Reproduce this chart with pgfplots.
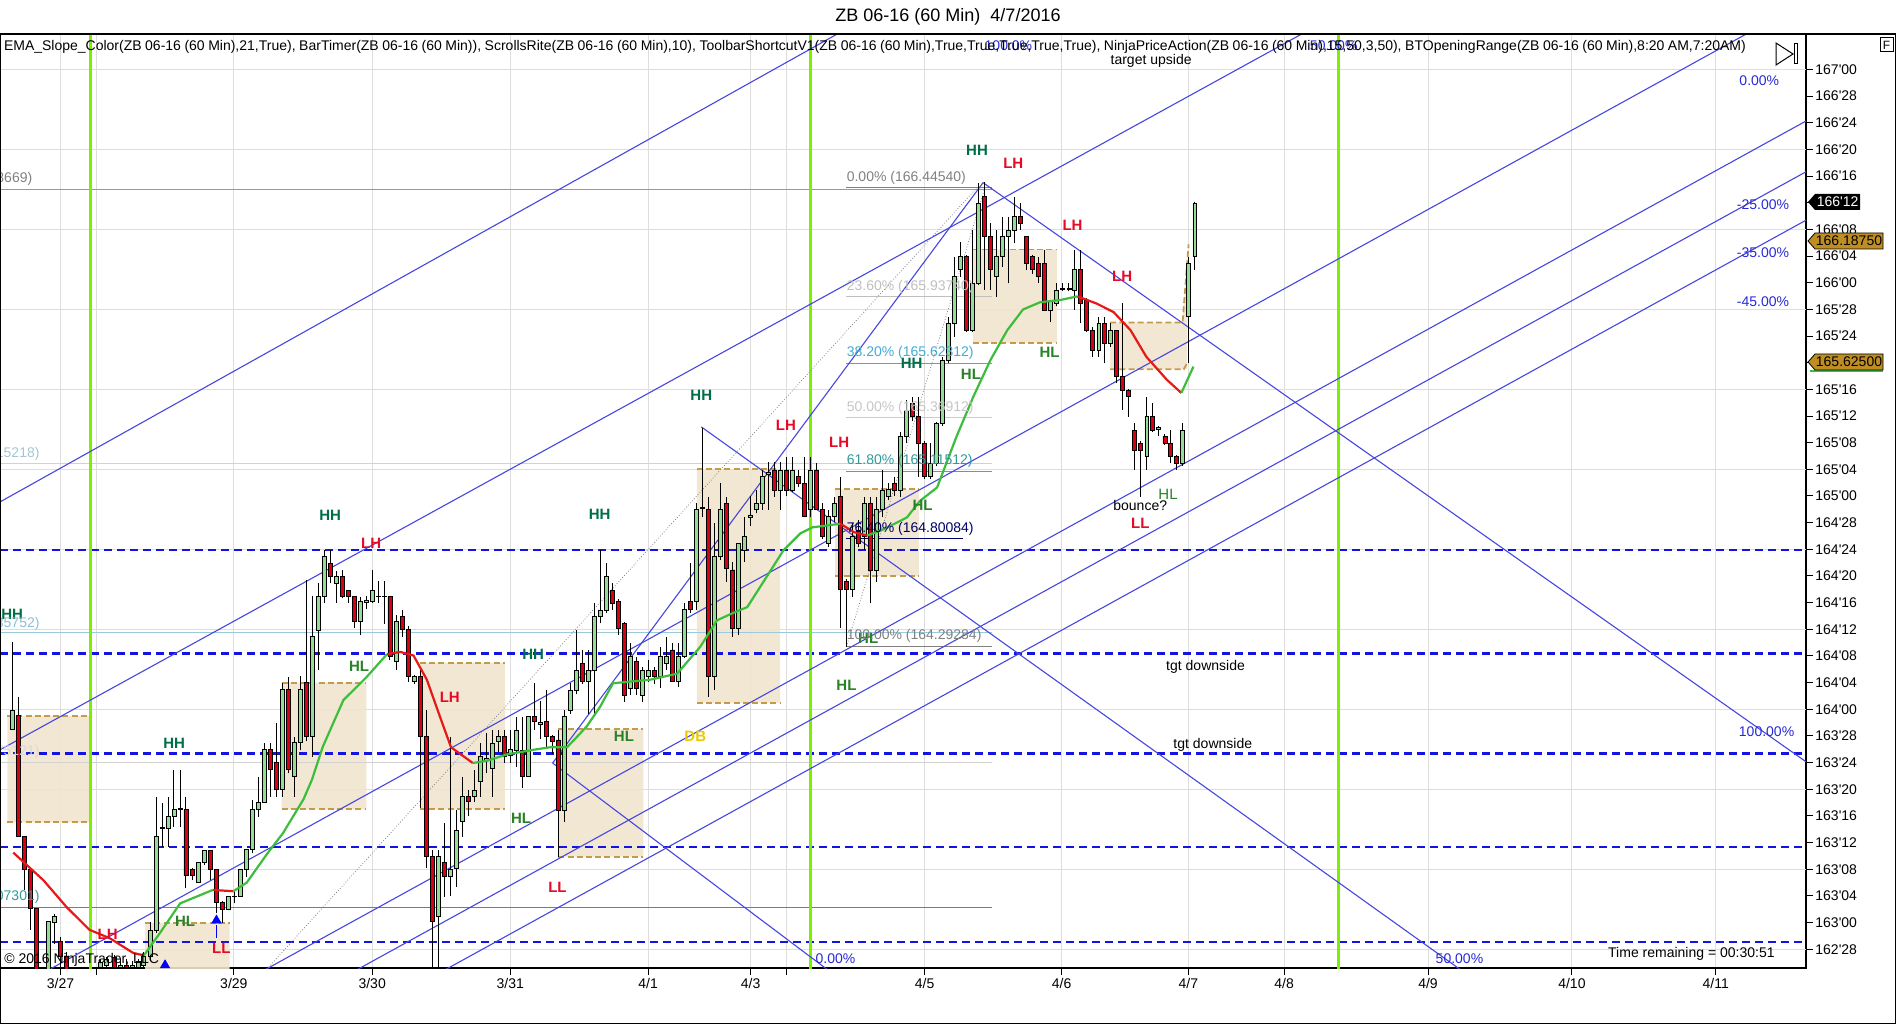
\documentclass[border=0pt]{standalone}
\usepackage{pgfplots}
\pgfplotsset{compat=1.18}
\usepackage{pgfplotstable}
\usepackage{fontspec}
\setmainfont{Liberation Sans}
\newcommand\q{\textquotesingle}
\newcommand\fs[1]{\fontsize{#1}{#1}\selectfont}

\definecolor{upc}{RGB}{150,220,150}
\definecolor{dnc}{RGB}{215,0,20}
\definecolor{emar}{RGB}{230,25,25}
\definecolor{emag}{RGB}{60,190,60}
\definecolor{bdash}{RGB}{20,20,225}
\definecolor{bline}{RGB}{70,70,225}
\definecolor{vgreen}{RGB}{124,240,0}
\definecolor{tanf}{RGB}{240,228,206}
\definecolor{tand}{RGB}{196,155,75}
\definecolor{gridc}{RGB}{222,222,222}
\definecolor{hhc}{RGB}{0,110,70}
\definecolor{hlc}{RGB}{40,130,40}
\definecolor{lhc}{RGB}{230,10,40}
\definecolor{dbc}{RGB}{235,200,0}
\definecolor{pctc}{RGB}{40,40,215}
\definecolor{gold}{RGB}{190,142,36}

% hourly bars, x in chart columns, prices in points
\pgfplotstableread{
x O H L C
10.2 163.906 164.317 163.906 163.997
15.2 163.969 164.059 163.403 163.403
20.1 163.403 163.403 163.153 163.247
25.4 163.247 163.247 162.965 163.067
30.3 163.067 163.067 162.700 162.750
40.0 162.750 163.004 162.700 163.004
44.9 163.000 163.040 162.900 163.030
49.9 162.911 162.934 162.780 162.840
55.1 162.840 162.860 162.750 162.780
83.0 162.790 162.830 162.750 162.815
88.0 162.800 162.840 162.760 162.825
94.3 162.835 162.850 162.770 162.790
99.5 162.790 162.830 162.760 162.800
104.5 162.800 162.830 162.770 162.790
109.5 162.790 162.820 162.760 162.800
114.4 162.790 162.830 162.750 162.817
118.6 162.800 162.860 162.780 162.840
124.1 162.840 163.004 162.820 162.965
129.6 162.965 163.590 162.950 163.403
134.5 163.440 163.559 163.356 163.445
139.2 163.442 163.590 163.356 163.497
143.9 163.497 163.716 163.450 163.531
148.9 163.531 163.716 163.450 163.534
153.8 163.531 163.590 163.161 163.219
159.1 163.250 163.255 163.200 163.219
164.0 163.187 163.281 163.187 163.281
169.0 163.281 163.340 163.270 163.340
174.0 163.340 163.340 163.200 163.250
179.2 163.250 163.250 163.044 163.094
183.9 163.094 163.100 162.997 163.062
189.1 163.062 163.122 163.060 163.122
194.1 163.122 163.153 163.090 163.125
199.1 163.125 163.250 163.120 163.250
204.0 163.250 163.344 163.215 163.344
208.7 163.344 163.575 163.325 163.531
213.7 163.531 163.684 163.497 163.562
218.6 163.562 163.844 163.562 163.812
223.6 163.812 163.844 163.590 163.719
228.6 163.750 163.937 163.590 163.625
233.5 163.625 164.125 163.590 164.094
238.5 164.094 164.153 163.700 163.719
243.4 163.687 163.872 163.590 163.844
248.4 163.844 164.156 163.809 164.094
253.4 164.125 164.606 163.850 163.875
258.3 163.875 164.531 163.778 164.344
263.3 164.372 164.590 164.184 164.528
268.2 164.528 164.747 164.500 164.715
273.5 164.684 164.747 164.590 164.622
278.4 164.590 164.650 164.500 164.622
283.4 164.622 164.653 164.520 164.528
288.3 164.559 164.560 164.500 164.528
293.3 164.528 164.530 164.380 164.411
298.3 164.411 164.528 164.348 164.504
303.2 164.500 164.530 164.470 164.510
308.2 164.504 164.653 164.500 164.559
313.2 164.528 164.600 164.500 164.530
318.1 164.530 164.600 164.400 164.528
322.5 164.528 164.530 164.230 164.247
328.1 164.223 164.442 164.184 164.411
333.0 164.437 164.465 164.340 164.375
338.0 164.375 164.390 164.130 164.153
343.0 164.130 164.160 164.120 164.156
347.9 164.156 164.200 163.536 163.872
352.9 163.872 163.997 163.254 163.309
357.8 163.309 163.340 162.700 163.004
362.5 163.028 163.340 162.700 163.309
367.5 163.281 163.465 163.121 163.215
372.5 163.215 163.870 163.125 163.250
377.4 163.254 163.528 163.168 163.434
382.4 163.473 163.684 163.403 163.590
387.3 163.590 163.620 163.500 163.567
392.3 163.590 163.715 163.567 163.622
397.3 163.661 163.840 163.590 163.778
402.2 163.760 163.887 163.700 163.770
407.2 163.723 163.903 163.590 163.840
412.1 163.848 163.903 163.800 163.872
417.1 163.872 163.903 163.747 163.778
422.1 163.785 163.903 163.750 163.812
427.0 163.809 163.965 163.731 163.903
432.0 163.809 163.965 163.629 163.684
437.0 163.684 163.970 163.684 163.965
441.9 163.965 164.121 163.903 163.942
446.9 163.930 164.040 163.860 163.940
451.9 163.942 164.090 163.825 163.872
456.8 163.872 163.880 163.790 163.848
461.8 163.856 163.903 163.309 163.528
466.7 163.528 163.997 163.473 163.965
471.7 163.997 164.121 163.980 164.090
476.7 164.090 164.372 164.070 164.184
481.6 164.215 164.278 164.120 164.129
486.6 164.129 164.278 163.980 164.184
491.5 164.184 164.496 163.980 164.434
496.5 164.434 164.747 164.403 164.465
501.5 164.465 164.684 164.450 164.622
506.4 164.559 164.590 164.465 164.497
511.4 164.505 164.515 164.350 164.380
516.4 164.403 164.410 164.036 164.067
521.6 164.099 164.309 164.067 164.247
526.6 164.223 164.247 164.067 164.099
531.6 164.067 164.200 164.036 164.184
536.5 164.153 164.232 164.130 164.184
541.5 164.184 164.200 164.120 164.153
546.5 164.153 164.294 164.099 164.247
551.4 164.215 164.341 164.184 164.247
556.4 164.278 164.309 164.130 164.130
561.4 164.130 164.309 164.106 164.247
566.3 164.247 164.497 164.240 164.466
571.3 164.505 164.685 164.450 164.466
576.3 164.505 164.966 164.466 164.935
581.2 164.940 165.317 164.900 164.945
586.2 164.935 164.997 164.059 164.153
591.1 164.153 164.872 164.091 164.716
596.1 164.716 165.060 164.700 164.935
601.1 164.966 164.997 164.599 164.661
606.0 164.653 164.690 164.341 164.380
611.0 164.380 164.780 164.348 164.778
616.0 164.747 164.903 164.692 164.810
620.9 164.900 165.000 164.860 164.910
625.9 164.935 165.030 164.920 164.966
630.8 164.966 165.122 164.935 165.091
635.8 165.100 165.161 164.935 165.110
640.8 165.122 165.161 164.997 165.028
645.7 165.028 165.161 164.935 165.122
650.7 165.122 165.185 165.000 165.028
655.7 165.028 165.185 165.020 165.122
660.6 165.091 165.122 165.040 165.060
665.6 165.060 165.185 164.900 164.903
670.5 164.935 165.185 164.900 165.122
675.5 165.122 165.154 164.935 164.935
680.5 164.935 164.966 164.800 164.810
685.4 164.778 164.935 164.760 164.903
690.4 164.903 164.997 164.880 164.966
695.4 164.997 165.091 164.380 164.560
700.3 164.599 164.610 164.294 164.560
705.3 164.560 164.872 164.528 164.810
710.2 164.841 164.888 164.760 164.778
715.2 164.810 164.997 164.747 164.966
720.2 164.966 164.997 164.497 164.653
725.1 164.653 164.997 164.599 164.935
730.1 164.935 165.122 164.900 165.028
735.1 165.000 165.060 164.980 165.030
740.0 165.060 165.090 165.000 165.028
745.0 165.028 165.300 164.997 165.278
749.9 165.278 165.450 165.250 165.403
754.9 165.434 165.466 165.350 165.372
759.9 165.372 165.466 165.091 165.247
764.8 165.247 165.260 165.080 165.091
769.8 165.091 165.247 165.080 165.153
774.8 165.153 165.345 165.140 165.341
779.7 165.341 165.650 165.330 165.638
784.7 165.638 165.841 165.622 165.809
789.7 165.809 166.122 165.747 166.028
794.6 166.060 166.192 166.028 166.122
799.6 166.122 166.130 165.770 165.778
804.5 165.778 166.247 165.770 165.997
809.5 165.997 166.466 165.990 166.372
814.5 166.403 166.474 165.966 166.216
819.4 166.216 166.278 165.966 166.060
824.4 166.028 166.247 165.934 166.122
829.4 166.122 166.309 166.075 166.216
834.3 166.216 166.309 165.997 166.247
839.3 166.247 166.403 166.184 166.309
844.2 166.309 166.372 166.247 166.278
849.2 166.216 166.220 166.060 166.091
854.2 166.122 166.130 166.040 166.060
859.1 166.091 166.120 166.000 166.028
864.1 166.091 166.153 165.870 165.872
869.1 165.872 165.920 165.818 165.911
874.0 165.903 165.997 165.890 165.966
879.0 165.970 165.997 165.960 165.972
884.0 165.972 165.997 165.960 165.970
888.9 165.966 166.153 165.872 166.060
893.9 166.060 166.153 165.809 165.903
898.8 165.919 165.930 165.770 165.778
903.8 165.778 165.790 165.653 165.684
908.8 165.684 165.841 165.653 165.809
913.7 165.809 165.841 165.622 165.716
918.7 165.716 165.810 165.700 165.778
923.6 165.778 165.780 165.528 165.559
928.6 165.559 165.903 165.403 165.497
933.6 165.497 165.500 165.372 165.466
938.5 165.309 165.341 165.122 165.216
943.5 165.247 165.260 164.997 165.216
948.5 165.184 165.466 165.122 165.372
953.4 165.372 165.434 165.300 165.309
958.4 165.310 165.330 165.280 165.320
963.4 165.278 165.290 165.240 165.247
968.3 165.247 165.309 165.153 165.184
973.3 165.184 165.190 165.122 165.153
978.2 165.153 165.341 165.140 165.309
983.2 165.841 166.122 165.622 166.091
988.2 166.122 166.378 166.060 166.372
}\bars

\pgfplotsset{
  base/.style={scale only axis, width=903pt, height=467pt,
    xmin=0, xmax=1493.6, ymin=162.787, ymax=167.166,
    at={(0pt,28pt)}, anchor=south west},
  box/.style={fill=tanf, draw=none, fill opacity=0.9},
  boxe/.style={tand, line width=0.9pt, dash pattern=on 3pt off 1.6pt},
}
\tikzset{
  lbl/.style={font=\fs{7.5}\bfseries, inner sep=0pt},
  pct/.style={font=\fs{7}, text=pctc, inner sep=0pt},
}

\begin{document}
\begin{tikzpicture}
\useasboundingbox (0,0) rectangle (948pt,512pt);

% ---- background axis: grid, ticks, drawings, wicks
\begin{axis}[base,
  axis line style={black, line width=0.7pt},
  tick align=outside, major tick length=3.5pt,
  tick style={black, line width=0.5pt},
  xtick pos=bottom, ytick pos=right, yticklabel pos=right,
  xtick={50,79.7,193.4,307.8,422,536,620.8,650.3,764.7,878,982.8,1062,1181,1300,1419},
  xticklabels={3/27,,3/29,3/30,3/31,4/1,4/3,,4/5,4/6,4/7,4/8,4/9,4/10,4/11},
  ytick={162.875,163,163.125,163.25,163.375,163.5,163.625,163.75,163.875,164,164.125,164.25,164.375,164.5,164.625,164.75,164.875,165,165.125,165.25,165.375,165.5,165.625,165.75,165.875,166,166.125,166.25,166.375,166.5,166.625,166.75,166.875,167},
  yticklabels={162\q28,163\q00,163\q04,163\q08,163\q12,163\q16,163\q20,163\q24,163\q28,164\q00,164\q04,164\q08,164\q12,164\q16,164\q20,164\q24,164\q28,165\q00,165\q04,165\q08,165\q12,165\q16,,165\q24,165\q28,166\q00,166\q04,166\q08,,166\q16,166\q20,166\q24,166\q28,167\q00},
  ticklabel style={font=\fs{7}},
  yticklabel style={inner sep=1pt},
  xticklabel style={yshift=2pt},
  xmajorgrids=true,
  extra y ticks={162.875,163.25,163.625,164,164.375,164.75,165.125,165.5,165.875,166.25,166.625,167},
  extra y tick labels={},
  extra y tick style={grid=major, major tick length=0pt},
  major grid style={gridc, line width=0.5pt},
]
% opening range boxes
\addplot[box] coordinates {(6,163.969)(75,163.969)(75,163.470)(6,163.470)(6,163.969)};
\addplot[box] coordinates {(120,162.999)(190,162.999)(190,162.70)(120,162.70)(120,162.999)};
\addplot[box] coordinates {(233,164.125)(303,164.125)(303,163.531)(233,163.531)(233,164.125)};
\addplot[box] coordinates {(347.4,164.218)(417.7,164.218)(417.7,163.531)(347.4,163.531)(347.4,164.218)};
\addplot[box] coordinates {(461.8,163.906)(532,163.906)(532,163.309)(461.8,163.309)(461.8,163.906)};
\addplot[box] coordinates {(576.3,165.125)(645.2,165.125)(645.2,164.031)(576.3,164.031)(576.3,165.125)};
\addplot[box] coordinates {(690.7,165.031)(760,165.031)(760,164.625)(690.7,164.625)(690.7,165.031)};
\addplot[box] coordinates {(804.5,166.156)(874,166.156)(874,165.719)(804.5,165.719)(804.5,166.156)};
\addplot[box] coordinates {(918.1,165.813)(978,165.813)(983,166.18)(981.5,165.594)(918.1,165.594)(918.1,165.813)};
\addplot[boxe] coordinates {(6,163.969)(75,163.969)};
\addplot[boxe] coordinates {(6,163.470)(75,163.470)};
\addplot[boxe] coordinates {(120,162.999)(190,162.999)};
\addplot[boxe] coordinates {(233,164.125)(303,164.125)};
\addplot[boxe] coordinates {(233,163.531)(303,163.531)};
\addplot[boxe] coordinates {(347.4,164.218)(417.7,164.218)};
\addplot[boxe] coordinates {(347.4,163.531)(417.7,163.531)};
\addplot[boxe] coordinates {(461.8,163.906)(532,163.906)};
\addplot[boxe] coordinates {(461.8,163.309)(532,163.309)};
\addplot[boxe] coordinates {(576.3,165.125)(645.2,165.125)};
\addplot[boxe] coordinates {(576.3,164.031)(645.2,164.031)};
\addplot[boxe] coordinates {(690.7,165.031)(760,165.031)};
\addplot[boxe] coordinates {(690.7,164.625)(760,164.625)};
\addplot[boxe] coordinates {(804.5,166.156)(874,166.156)};
\addplot[boxe] coordinates {(804.5,165.719)(874,165.719)};
\addplot[boxe] coordinates {(918.1,165.813)(978,165.813)(983,166.18)};
\addplot[boxe] coordinates {(918.1,165.594)(979,165.594)(981.5,165.62)};

% fib lines from an earlier drawing
\addplot[gray!80, line width=0.5pt] coordinates {(0,166.437)(820,166.437)};
\addplot[cyan!30!gray!40, line width=0.5pt] coordinates {(0,165.152)(820,165.152)};
\addplot[cyan!50!gray!60, line width=0.5pt] coordinates {(0,164.358)(820,164.358)};
\addplot[gray!35, line width=0.5pt] coordinates {(0,163.751)(820,163.751)};
\addplot[teal!80, line width=0.5pt] coordinates {(0,163.073)(820,163.073)};
% fib retracement 166.44540 -> 164.29284
\addplot[gray, line width=0.5pt] coordinates {(700,166.4454)(820,166.4454)};
\addplot[gray!50, line width=0.5pt] coordinates {(700,165.9374)(820,165.9374)};
\addplot[cyan!70!gray, line width=0.5pt] coordinates {(700,165.6231)(820,165.6231)};
\addplot[gray!40, line width=0.5pt] coordinates {(700,165.3691)(820,165.3691)};
\addplot[teal!70, line width=0.5pt] coordinates {(700,165.1151)(820,165.1151)};
\addplot[blue!40!black, line width=0.5pt] coordinates {(700,164.8008)(796,164.8008)};
\addplot[gray, line width=0.5pt] coordinates {(700,164.2928)(820,164.2928)};

% horizontal target lines
\addplot[bdash, line width=1.2pt, dash pattern=on 4pt off 2.5pt] coordinates {(0,164.746)(1493.6,164.746)};
\addplot[bdash, line width=1.2pt, dash pattern=on 4pt off 2.5pt] coordinates {(0,164.262)(1493.6,164.262)};
\addplot[bdash, line width=1.2pt, dash pattern=on 4pt off 2.5pt] coordinates {(0,163.793)(1493.6,163.793)};
\addplot[bdash, line width=1.2pt, dash pattern=on 4pt off 2.5pt] coordinates {(0,163.355)(1493.6,163.355)};
\addplot[bdash, line width=1.2pt, dash pattern=on 4pt off 2.5pt] coordinates {(0,162.910)(1493.6,162.910)};

% session lines
\addplot[vgreen, line width=1.5pt] coordinates {(74.9,162.7)(74.9,167.2)};
\addplot[vgreen, line width=1.5pt] coordinates {(669.9,162.7)(669.9,167.2)};
\addplot[vgreen, line width=1.5pt] coordinates {(1106.9,162.7)(1106.9,167.2)};

% channel and pitchfork lines
\addplot[bline, line width=0.55pt] coordinates {(0,164.972)(700,167.19)};
\addplot[bline, line width=0.55pt] coordinates {(0,163.810)(1100,167.239)};
\addplot[bline, line width=0.55pt] coordinates {(30,162.746)(1450,167.184)};
\addplot[bline, line width=0.55pt] coordinates {(210,162.75)(1493.6,166.758)};
\addplot[bline, line width=0.55pt] coordinates {(286,162.75)(1493.6,166.520)};
\addplot[bline, line width=0.55pt] coordinates {(359,162.75)(1493.6,166.293)};
\addplot[bline, line width=0.55pt] coordinates {(457,163.748)(813,166.469)};
\addplot[bline, line width=0.55pt] coordinates {(580,165.324)(1215,162.75)};
\addplot[bline, line width=0.55pt] coordinates {(813,166.469)(1493.6,163.754)};
\addplot[bline, line width=0.55pt] coordinates {(457,163.748)(690,162.755)};
\addplot[gray, line width=0.4pt, densely dotted] coordinates {(222,162.79)(808,166.446)};
\addplot[gray, line width=0.4pt, densely dotted] coordinates {(700,164.293)(814.5,166.4454)};

% wicks
\addplot[black, only marks, mark size=0pt,
  error bars/.cd, y dir=plus, y explicit, error mark=none,
  error bar style={black, line width=0.5pt}]
  table[x=x, y=L, y error expr=\thisrow{H}-\thisrow{L}] {\bars};
\end{axis}

% ---- candle bodies
\begin{axis}[base, hide axis, ybar stacked, bar width=3.3]
\addplot[draw=none, fill=none] table[x=x, y expr={min(\thisrow{O},\thisrow{C})}] {\bars};
\addplot[fill=upc, draw=black, line width=0.4pt] table[x=x, y expr={max(\thisrow{C}-\thisrow{O},0)}] {\bars};
\addplot[fill=dnc, draw=black, line width=0.4pt] table[x=x, y expr={max(\thisrow{O}-\thisrow{C},0)}] {\bars};
\end{axis}

% ---- EMA and annotations
\begin{axis}[base, hide axis, clip mode=individual]
\addplot[emar, line width=1.1pt] coordinates {(11,163.328)(36,163.198)(55,163.073)(74,162.966)(91,162.926)(110,162.858)(119,162.846)};
\addplot[emag, line width=1.1pt] coordinates {(119,162.846)(132,162.949)(149,163.090)(176,163.153)};
\addplot[emar, line width=1.1pt] coordinates {(176,163.153)(193,163.147)};
\addplot[emag, line width=1.1pt] coordinates {(193,163.147)(204,163.187)(221,163.323)(234,163.419)(251,163.578)(258,163.670)(267,163.825)(284,164.043)(303,164.150)(320,164.258)};
\addplot[emar, line width=1.1pt] coordinates {(320,164.258)(331,164.269)(342,164.252)(353,164.139)(364,163.963)(373,163.822)(391,163.748)};
\addplot[emag, line width=1.1pt] coordinates {(391,163.748)(403,163.759)(419,163.788)(441,163.810)(455,163.822)(469,163.822)(485,163.918)(496,164.009)(507,164.122)(538,164.139)(560,164.167)(579,164.292)(593,164.417)(606,164.451)(618,164.479)(634,164.621)(648,164.746)(662,164.825)(672,164.853)(695,164.870)};
\addplot[emar, line width=1.1pt] coordinates {(695,164.870)(706,164.831)(717,164.814)};
\addplot[emag, line width=1.1pt] coordinates {(717,164.814)(730,164.842)(750,164.899)(761,164.978)(775,165.040)(791,165.278)(805,165.466)(819,165.636)(833,165.777)(846,165.874)(860,165.908)(877,165.919)(891,165.936)};
\addplot[emar, line width=1.1pt] coordinates {(891,165.936)(907,165.902)(921,165.862)(935,165.777)(948,165.653)(965,165.545)(977,165.483)};
\addplot[emag, line width=1.1pt] coordinates {(977,165.483)(987,165.607)};

% signal arrows
\addplot[blue, only marks, mark=triangle*, mark size=2.6pt] coordinates {(179,163.01)};
\addplot[blue, line width=0.8pt] coordinates {(179,162.93)(179,162.99)};
\addplot[blue, only marks, mark=triangle*, mark size=2.6pt] coordinates {(136.5,162.80)};

% swing labels
\node[lbl, text=hhc] at (axis cs:10,164.445) {HH};
\node[lbl, text=lhc] at (axis cs:89,162.943) {LH};
\node[lbl, text=hhc] at (axis cs:144,163.839) {HH};
\node[lbl, text=hlc] at (axis cs:153,163.005) {HL};
\node[lbl, text=lhc] at (axis cs:183,162.881) {LL};
\node[lbl, text=hhc] at (axis cs:273,164.910) {HH};
\node[lbl, text=lhc] at (axis cs:307,164.780) {LH};
\node[lbl, text=hlc] at (axis cs:297,164.201) {HL};
\node[lbl, text=lhc] at (axis cs:372,164.054) {LH};
\node[lbl, text=hhc] at (axis cs:441,164.258) {HH};
\node[lbl, text=hlc] at (axis cs:431,163.487) {HL};
\node[lbl, text=lhc] at (axis cs:461,163.164) {LL};
\node[lbl, text=hlc] at (axis cs:516,163.873) {HL};
\node[lbl, text=dbc] at (axis cs:575,163.873) {DB};
\node[lbl, text=hhc] at (axis cs:496,164.916) {HH};
\node[lbl, text=hhc] at (axis cs:580,165.471) {HH};
\node[lbl, text=lhc] at (axis cs:650,165.330) {LH};
\node[lbl, text=lhc] at (axis cs:694,165.250) {LH};
\node[lbl, text=hlc] at (axis cs:700,164.111) {HL};
\node[lbl, text=hlc] at (axis cs:718,164.332) {HL};
\node[lbl, text=hlc] at (axis cs:763,164.955) {HL};
\node[lbl, text=hhc] at (axis cs:754,165.624) {HH};
\node[lbl, text=hlc] at (axis cs:803,165.568) {HL};
\node[lbl, text=hhc] at (axis cs:808,166.622) {HH};
\node[lbl, text=lhc] at (axis cs:838,166.560) {LH};
\node[lbl, text=lhc] at (axis cs:887,166.271) {LH};
\node[lbl, text=hlc] at (axis cs:868,165.675) {HL};
\node[lbl, text=lhc] at (axis cs:928,166.032) {LH};
\node[lbl, text=lhc] at (axis cs:943,164.870) {LL};
\node[font=\fs{7.5}, text=hlc, inner sep=0pt] at (axis cs:966,165.006) {HL};
\node[font=\fs{7}, inner sep=0pt] at (axis cs:943,164.955) {bounce?};

% fib texts
\node[font=\fs{7}, text=gray, anchor=west, inner sep=0pt] at (axis cs:700,166.492) {0.00\% (166.44540)};
\node[font=\fs{7}, text=gray!50, anchor=west, inner sep=0pt] at (axis cs:700,165.981) {23.60\% (165.93740)};
\node[font=\fs{7}, text=cyan!70!gray, anchor=west, inner sep=0pt] at (axis cs:700,165.670) {38.20\% (165.62312)};
\node[font=\fs{7}, text=gray!45, anchor=west, inner sep=0pt] at (axis cs:700,165.415) {50.00\% (165.36912)};
\node[font=\fs{7}, text=teal!80, anchor=west, inner sep=0pt] at (axis cs:700,165.165) {61.80\% (165.11512)};
\node[font=\fs{7}, text=blue!40!black, anchor=west, inner sep=0pt] at (axis cs:700,164.848) {76.40\% (164.80084)};
\node[font=\fs{7}, text=gray, anchor=west, inner sep=0pt] at (axis cs:700,164.343) {100.00\% (164.29284)};
\node[font=\fs{7}, text=gray, anchor=east, inner sep=0pt] at (axis cs:27,166.486) {(166.43669)};
\node[font=\fs{7}, text=cyan!40!gray!60, anchor=east, inner sep=0pt] at (axis cs:33,165.199) {(165.15218)};
\node[font=\fs{7}, text=cyan!50!gray!70, anchor=east, inner sep=0pt] at (axis cs:33,164.400) {(164.35752)};
\node[font=\fs{7}, text=gray!30, anchor=east, inner sep=0pt] at (axis cs:33,163.800) {(163.75121)};
\node[font=\fs{7}, text=teal!80, anchor=east, inner sep=0pt] at (axis cs:33,163.119) {(163.07301)};

% pitchfork texts
\node[pct] at (axis cs:1455,166.945) {0.00\%};
\node[pct] at (axis cs:1458,166.367) {-25.00\%};
\node[pct] at (axis cs:1458,166.140) {-35.00\%};
\node[pct] at (axis cs:1458,165.913) {-45.00\%};
\node[pct] at (axis cs:1461,163.895) {100.00\%};
\node[pct] at (axis cs:1207,162.830) {50.00\%};
\node[pct] at (axis cs:691,162.830) {0.00\%};
\node[pct] at (axis cs:834,167.110) {100.0\%};
\node[pct] at (axis cs:1103,167.110) {50.00\%};

% notes
\node[font=\fs{7}, inner sep=0pt] at (axis cs:952,167.042) {target upside};
\node[font=\fs{7}, inner sep=0pt] at (axis cs:997,164.201) {tgt downside};
\node[font=\fs{7}, inner sep=0pt] at (axis cs:1003,163.833) {tgt downside};
\end{axis}

% chart frame and header
\draw[black, line width=0.7pt] (0.35pt,0.35pt) rectangle (947.6pt,495pt);
\node[font=\fs{9}] at (474pt,503.5pt) {ZB 06-16 (60 Min)\ \ 4/7/2016};
\node[font=\fs{7}, anchor=west, inner sep=0pt] at (1.8pt,488.5pt)
  {\makebox[871pt][s]{EMA\_Slope\_Color(ZB 06-16 (60 Min),21,True), BarTimer(ZB 06-16 (60 Min)), ScrollsRite(ZB 06-16 (60 Min),10), ToolbarShortcutV1(ZB 06-16 (60 Min),True,True,True,True,True), NinjaPriceAction(ZB 06-16 (60 Min),15,50,3,50), BTOpeningRange(ZB 06-16 (60 Min),8:20 AM,7:20AM)}};
\node[font=\fs{7}, anchor=west, inner sep=0pt] at (2pt,32pt) {\textcopyright{} 2016 NinjaTrader, LLC};
\node[font=\fs{7}, anchor=east, inner sep=0pt] at (887.5pt,35pt) {Time remaining = 00:30:51};
% scroll icon and F box
\draw[black, line width=0.5pt] (888pt,490.5pt) -- (888pt,479.5pt) -- (896.5pt,485pt) -- cycle;
\draw[black, line width=0.5pt] (897pt,480pt) rectangle (898.6pt,490pt);
\draw[black, line width=0.5pt] (940pt,486pt) rectangle (946.5pt,493pt);
\node[font=\fs{6}, inner sep=0pt] at (943.25pt,489.5pt) {F};
% price markers
\fill[black] (904pt,411pt) -- (907.5pt,415pt) -- (930pt,415pt) -- (930pt,407pt) -- (907.5pt,407pt) -- cycle;
\node[font=\fs{7}, text=white, inner sep=0pt] at (918.8pt,411pt) {166\q12};
\draw[black, line width=0.4pt, fill=gold] (904pt,391.5pt) -- (907.5pt,395.5pt) -- (941.5pt,395.5pt) -- (941.5pt,387.5pt) -- (907.5pt,387.5pt) -- cycle;
\node[font=\fs{7}, inner sep=0pt] at (924.5pt,391.5pt) {166.18750};
\draw[emag, line width=1pt] (905pt,326.6pt) -- (941.5pt,326.6pt);
\draw[black, line width=0.4pt, fill=gold] (904pt,331pt) -- (907.5pt,335pt) -- (941.5pt,335pt) -- (941.5pt,327pt) -- (907.5pt,327pt) -- cycle;
\node[font=\fs{7}, inner sep=0pt] at (924.5pt,331pt) {165.62500};
\end{tikzpicture}
\end{document}
